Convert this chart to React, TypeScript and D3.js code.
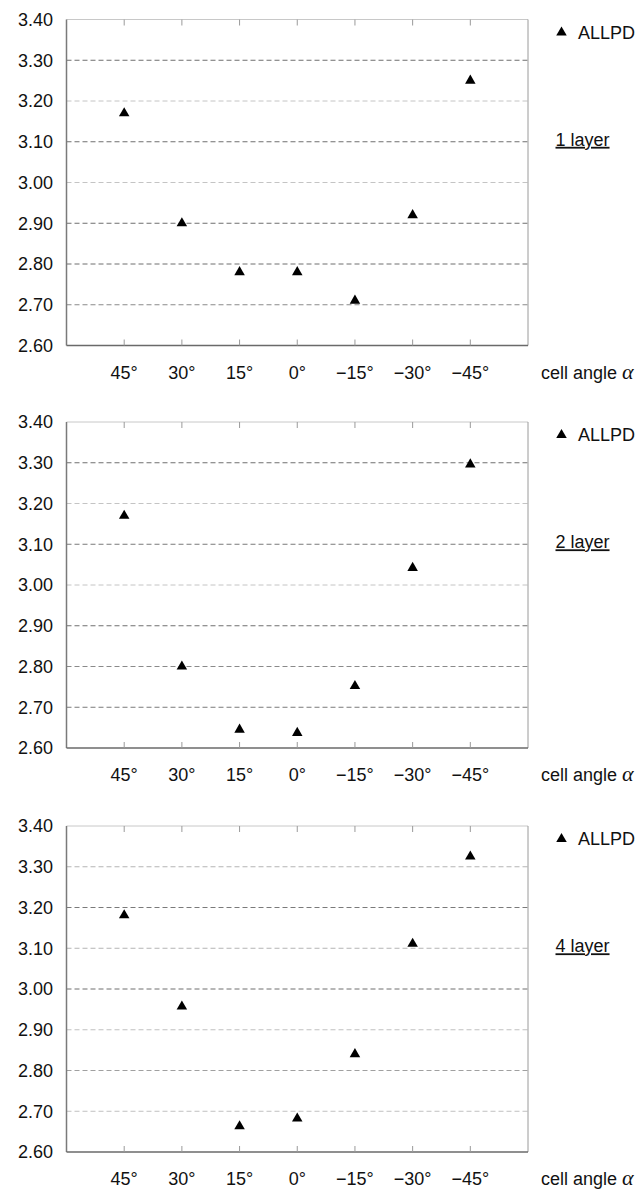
import React from 'react';
import * as d3 from 'd3';

// categories (cell angle alpha), left to right
const angles = ['45°', '30°', '15°', '0°', '−15°', '−30°', '−45°'];
const layerNames = ['1 layer', '2 layer', '4 layer'];
const seriesName = 'ALLPD';

// ALLPD values per layer count
const allpd1 = [3.17, 2.9, 2.78, 2.78, 2.71, 2.92, 3.25];
const allpd2 = [3.17, 2.8, 2.645, 2.637, 2.752, 3.042, 3.296];
const allpd4 = [3.181, 2.957, 2.663, 2.682, 2.84, 3.111, 3.325];
const panelValues = [allpd1, allpd2, allpd4];

const yTicks = [2.6, 2.7, 2.8, 2.9, 3.0, 3.1, 3.2, 3.3, 3.4];

// scan-like tone of each grid line (3.30 down to 2.70) per panel
const gridTone = [
  ['#6f6f6f', '#c4c4c4', '#6f6f6f', '#c4c4c4', '#6f6f6f', '#6f6f6f', '#8a8a8a'],
  ['#6f6f6f', '#c4c4c4', '#7a7a7a', '#c4c4c4', '#6f6f6f', '#8a8a8a', '#7a7a7a'],
  ['#b4b4b4', '#7a7a7a', '#b4b4b4', '#6f6f6f', '#c0c0c0', '#a0a0a0', '#c0c0c0'],
];

const W = 638;
const H = 1189;
const left = 66.5;
const right = 528;
const panelTops = [19.5, 422, 826];
const panelH = 326;
const font = '"Liberation Sans", Arial, sans-serif';

const x = d3.scalePoint<string>().domain(angles).range([left, right]).padding(1);
const tri = d3.symbol().type(d3.symbolTriangle).size(48)() || '';

const Panel: React.FC<{ idx: number }> = ({ idx }) => {
  const top = panelTops[idx];
  const bottom = top + panelH;
  const y = d3.scaleLinear().domain([2.6, 3.4]).range([bottom, top]);
  const vals = panelValues[idx];
  const inner = yTicks.filter(t => t > 2.65 && t < 3.35).reverse();

  return (
    <g>
      {/* grid */}
      {inner.map((t, i) => (
        <line key={'g' + i} x1={left} x2={right} y1={y(t)} y2={y(t)}
          stroke={gridTone[idx][i]} strokeWidth={1} strokeDasharray="5,3" />
      ))}
      {/* frame */}
      <line x1={left} x2={right} y1={top} y2={top} stroke="#c8c8c8" strokeWidth={1} />
      <line x1={right} x2={right} y1={top} y2={bottom} stroke="#9a9a9a" strokeWidth={1} />
      <line x1={left} x2={left} y1={top} y2={bottom} stroke="#7a7a7a" strokeWidth={1.5} />
      <line x1={left} x2={right} y1={bottom} y2={bottom} stroke="#6a6a6a" strokeWidth={1.5} />
      {/* ticks top and bottom */}
      {angles.map(a => (
        <g key={'t' + a}>
          <line x1={x(a)} x2={x(a)} y1={top} y2={top + 6} stroke="#9a9a9a" />
          <line x1={x(a)} x2={x(a)} y1={bottom} y2={bottom - 6} stroke="#9a9a9a" />
        </g>
      ))}
      {/* y labels */}
      {yTicks.map(t => (
        <text key={'y' + t} x={53} y={y(t)} dy="0.35em" textAnchor="end"
          fontFamily={font} fontSize={18} fill="#111">{t.toFixed(2)}</text>
      ))}
      {/* x labels */}
      {angles.map(a => (
        <text key={'x' + a} x={x(a)} y={bottom + 33} textAnchor="middle"
          fontFamily={font} fontSize={18} fill="#111">{a}</text>
      ))}
      <text x={541} y={bottom + 33} fontFamily={font} fontSize={18} fill="#111">
        cell angle <tspan fontFamily='"Liberation Serif", "Times New Roman", serif' fontStyle="italic" fontSize={22}>α</tspan>
      </text>
      {/* points */}
      {vals.map((v, i) => (
        <path key={'p' + i} d={tri} transform={`translate(${x(angles[i])},${y(v)})`} fill="#000" />
      ))}
      {/* legend + layer label */}
      <path d={tri} transform={`translate(561.5,${top + 13})`} fill="#000" />
      <text x={578} y={top + 13} dy="0.35em" fontFamily={font} fontSize={18} fill="#111">{seriesName}</text>
      <text x={555.5} y={top + 120} dy="0.35em" fontFamily={font} fontSize={18} fill="#111"
        textDecoration="underline">{layerNames[idx]}</text>
    </g>
  );
};

const App: React.FC = () => (
  <div style={{ position: 'absolute', left: 0, top: 0 }}>
    <svg width={W} height={H} style={{ display: 'block', background: '#fff' }}>
      {panelTops.map((_, i) => <Panel key={i} idx={i} />)}
    </svg>
  </div>
);

export default App;
